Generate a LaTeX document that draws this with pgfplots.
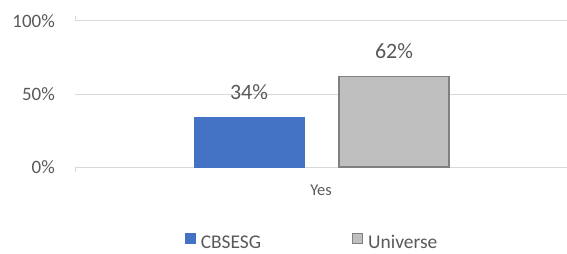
\documentclass[border=0pt]{standalone}
\usepackage{pgfplots}
\pgfplotsset{compat=1.18}
\usepackage{fontspec}
\setmainfont{Carlito}
\definecolor{txt}{HTML}{595959}
\definecolor{gridc}{HTML}{D9D9D9}
\definecolor{cbs}{HTML}{4472C4}
\definecolor{uni}{HTML}{BFBFBF}
\definecolor{unib}{HTML}{808080}
\begin{document}
\begin{tikzpicture}[x=1bp,y=1bp]
\useasboundingbox (0,0) rectangle (567,253);
\begin{axis}[
  at={(75bp,86bp)}, anchor=south west, scale only axis,
  width=492bp, height=146bp,
  xmin=-1, xmax=1, ymin=0, ymax=100,
  axis line style={draw=none},
  ybar, bar width=110bp,
  ymajorgrids, y grid style={gridc, line width=1bp},
  ytick={0,50,100}, yticklabels={0\%,50\%,100\%},
  major tick length=0pt,
  yticklabel style={anchor=east, inner sep=0pt, xshift=-20bp, font=\fontsize{19}{22}\selectfont, text=txt},
  xtick={0}, xticklabels={Yes},
  xticklabel style={anchor=base, inner sep=0pt, yshift=-28bp, font=\fontsize{16.5}{19}\selectfont, text=txt},
  extra x ticks={-1}, extra x tick labels={},
  extra x tick style={major tick length=5bp, tick align=outside, tick style={gridc, line width=1bp}},
  point meta=explicit symbolic,
  nodes near coords,
  every node near coord/.append style={anchor=south, inner sep=0pt, yshift=17bp, font=\fontsize{22}{26}\selectfont, text=txt},
  legend columns=2,
  legend style={at={(0.481,-0.515)}, anchor=center, draw=none, fill=none,
    font=\fontsize{19.5}{22}\selectfont, text=txt, inner sep=1bp,
    nodes={inner sep=1bp},
    /tikz/every even column/.append style={column sep=90bp}},
  legend cell align=left,
  legend image code/.code={\draw[#1, line width=1bp] (0bp,-1bp) rectangle (10bp,9bp); \path (14bp,0bp);},
]
\addplot[fill=cbs, draw=cbs, line width=0.5bp, bar shift=-72bp] coordinates {(0,34) [34\%]};
\addplot[fill=uni, draw=unib, line width=1.25bp, bar shift=73bp] coordinates {(0,62) [62\%]};
\legend{CBSESG, Universe}
\end{axis}
\end{tikzpicture}
\end{document}
